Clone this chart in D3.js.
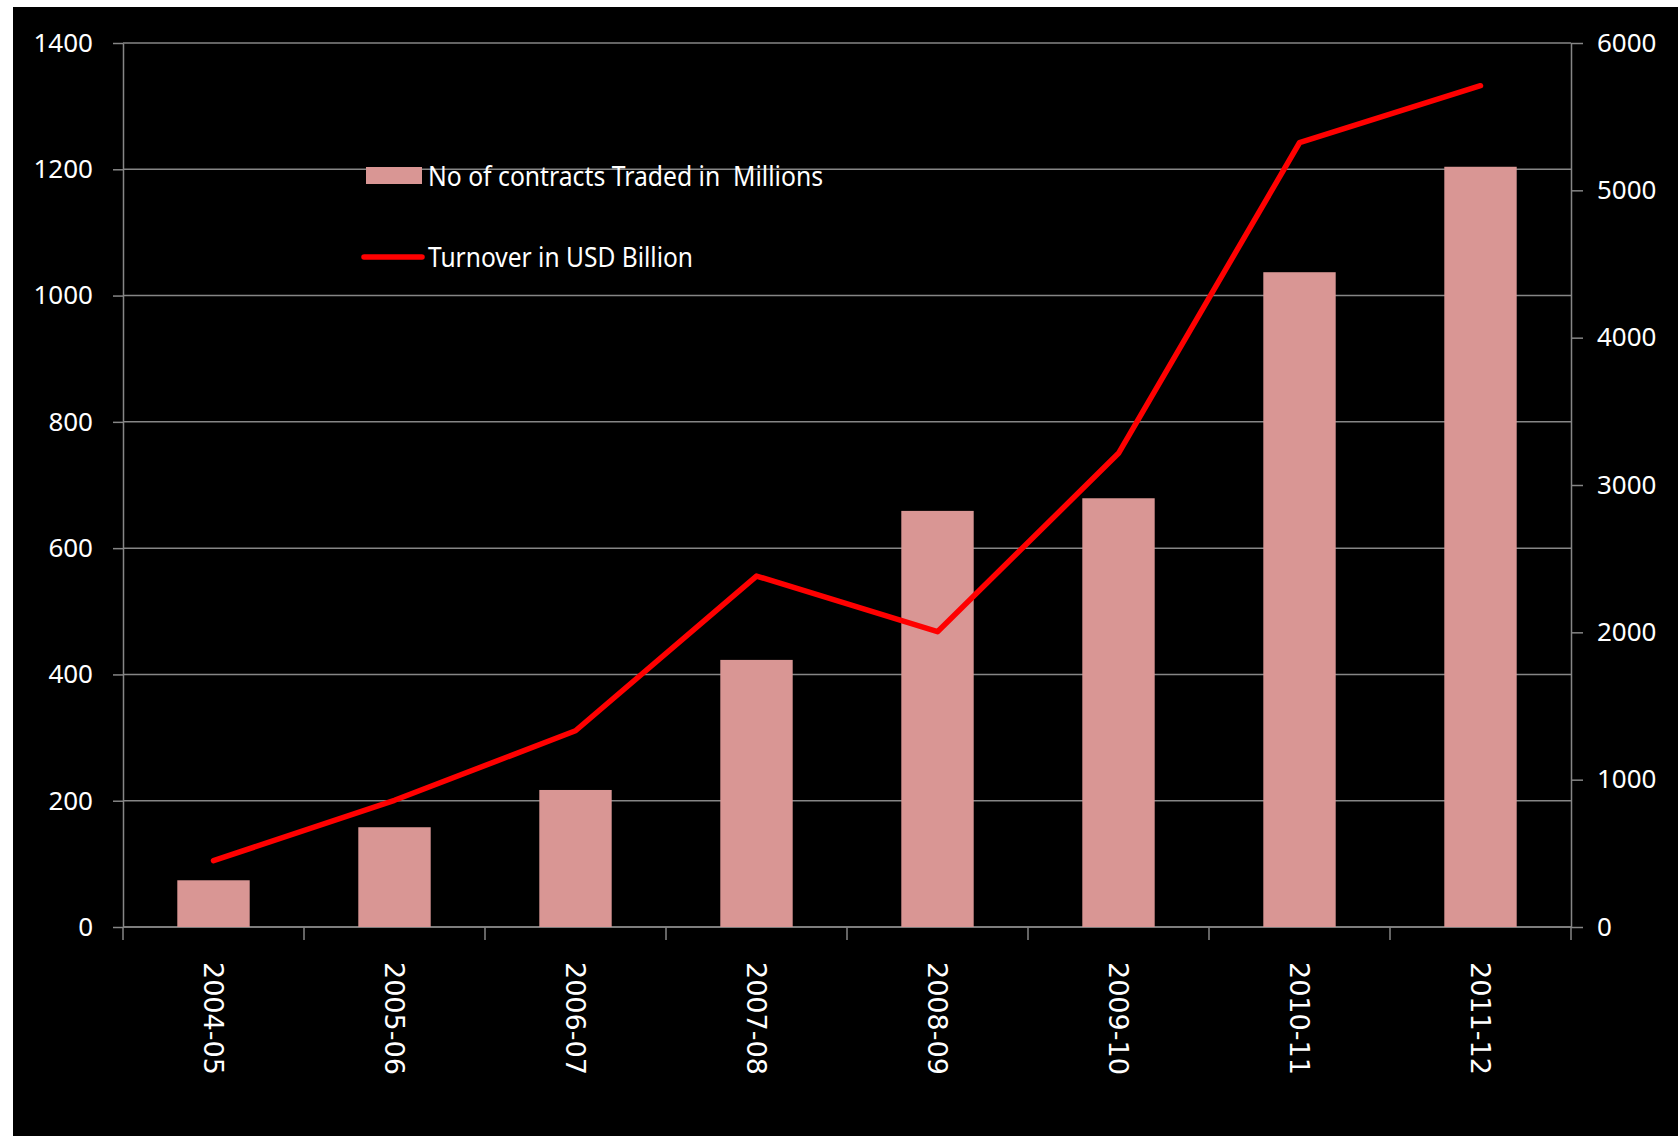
<!DOCTYPE html>
<html>
<head>
<meta charset="utf-8">
<script src="https://cdn.jsdelivr.net/npm/d3@7"></script>
<style>
  html, body { margin: 0; padding: 0; background: #fff; }
  .axis text { fill: #fff; font-family: "Noto Sans", sans-serif; font-size: 26px; }
  .axis path, .axis line { stroke: #868686; stroke-width: 1.5; }
  .axis .xlab { fill: #fff; font-family: "DejaVu Sans", sans-serif; font-size: 27px; }
  .legend text { fill: #fff; font-family: "Noto Sans", sans-serif; font-size: 27px; }
</style>
</head>
<body>
<div id="chart-area"></div>
<script>

const MARGIN = {
    LEFT: 123,
    RIGHT: 107,
    TOP: 43,
    BOTTOM: 209
}

const WIDTH = 1678 - MARGIN.LEFT - MARGIN.RIGHT;
const HEIGHT = 1136 - MARGIN.TOP - MARGIN.BOTTOM;

const years = ['2004-05', '2005-06', '2006-07', '2007-08', '2008-09', '2009-10', '2010-11', '2011-12'];
const contracts = [74, 158, 217, 423, 659, 679, 1037, 1204];
const turnover = [450, 860, 1332, 2382, 2004, 3215, 5323, 5710];
const leftTicks = [0, 200, 400, 600, 800, 1000, 1200, 1400];
const rightTicks = [0, 1000, 2000, 3000, 4000, 5000, 6000];
const barName = 'No of contracts Traded in  Millions';
const lineName = 'Turnover in USD Billion';

const svg = d3.select('#chart-area').append('svg')
    .attr('width', 1678)
    .attr('height', 1136)

svg.append('rect')
    .attr('x', 13).attr('y', 7)
    .attr('width', 1678 - 13).attr('height', 1136 - 7)
    .attr('fill', '#000')

const g = svg.append('g')
    .attr('transform', `translate(${MARGIN.LEFT}, ${MARGIN.TOP})`)

// slots between the tick marks
const x = d3.scaleBand()
    .domain(years)
    .range([0, WIDTH])

// bars sit in the middle of each slot
const xBar = d3.scaleBand()
    .domain(years)
    .range([0, WIDTH])
    .paddingInner(0.6)
    .paddingOuter(0.3)

const yL = d3.scaleLinear()
    .domain([0, 1400])
    .range([HEIGHT, 0])

const yR = d3.scaleLinear()
    .domain([0, 6000])
    .range([HEIGHT, 0])

// gridlines
g.append('g')
    .selectAll('line')
    .data(leftTicks)
    .enter().append('line')
    .attr('x1', 0)
    .attr('x2', WIDTH)
    .attr('y1', d => yL(d))
    .attr('y2', d => yL(d))
    .attr('stroke', '#868686')
    .attr('stroke-width', 1.5)

g.append('g')
    .attr('class', 'axis')
    .call(d3.axisLeft(yL).tickValues(leftTicks).tickFormat(d3.format('d'))
        .tickSize(10).tickPadding(20).tickSizeOuter(0))

g.append('g')
    .attr('class', 'axis')
    .attr('transform', `translate(${WIDTH}, 0)`)
    .call(d3.axisRight(yR).tickValues(rightTicks).tickFormat(d3.format('d'))
        .tickSize(12).tickPadding(14).tickSizeOuter(0))

// bottom axis: ticks on slot edges, labels turned on their side
const xAxis = g.append('g')
    .attr('class', 'axis')
    .attr('transform', `translate(0, ${HEIGHT})`)

xAxis.append('line')
    .attr('x1', 0).attr('x2', WIDTH)

xAxis.selectAll('.edge')
    .data(years.concat(['end']))
    .enter().append('line')
    .attr('class', 'edge')
    .attr('x1', (d, i) => i < years.length ? x(d) : WIDTH)
    .attr('x2', (d, i) => i < years.length ? x(d) : WIDTH)
    .attr('y1', 0)
    .attr('y2', 13)

xAxis.selectAll('.xlab')
    .data(years)
    .enter().append('text')
    .attr('class', 'xlab')
    .attr('transform', d => `translate(${x(d) + x.bandwidth() / 2}, 35) rotate(90)`)
    .attr('dy', '0.35em')
    .attr('text-anchor', 'start')
    .text(d => d)

g.selectAll('.bar')
    .data(contracts)
    .enter().append('rect')
    .attr('class', 'bar')
    .attr('x', (d, i) => xBar(years[i]))
    .attr('width', xBar.bandwidth())
    .attr('y', d => yL(d))
    .attr('height', d => HEIGHT - yL(d))
    .attr('fill', '#d99694')

const line = d3.line()
    .x((d, i) => x(years[i]) + x.bandwidth() / 2)
    .y(d => yR(d))

g.append('path')
    .datum(turnover)
    .attr('d', line)
    .attr('fill', 'none')
    .attr('stroke', '#ff0000')
    .attr('stroke-width', 5.5)
    .attr('stroke-linecap', 'round')
    .attr('stroke-linejoin', 'round')

// legend
const legend = svg.append('g').attr('class', 'legend')

legend.append('rect')
    .attr('x', 366).attr('y', 167)
    .attr('width', 56).attr('height', 17)
    .attr('fill', '#d99694')

legend.append('text')
    .attr('x', 428).attr('y', 186)
    .attr('xml:space', 'preserve')
    .attr('textLength', 395)
    .attr('lengthAdjust', 'spacingAndGlyphs')
    .text(barName)

legend.append('line')
    .attr('x1', 364).attr('x2', 422)
    .attr('y1', 257).attr('y2', 257)
    .attr('stroke', '#ff0000')
    .attr('stroke-width', 5.5)
    .attr('stroke-linecap', 'round')

legend.append('text')
    .attr('x', 428).attr('y', 267)
    .attr('textLength', 265)
    .attr('lengthAdjust', 'spacingAndGlyphs')
    .text(lineName)

</script>
</body>
</html>
